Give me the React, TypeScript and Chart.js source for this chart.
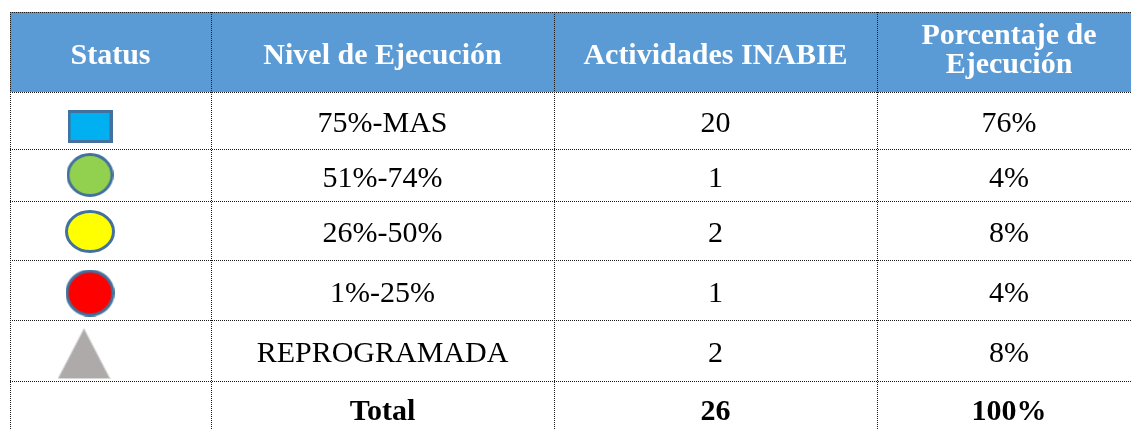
import React, { useEffect, useRef } from 'react';
import { Chart, registerables } from 'chart.js';

Chart.register(...registerables);

// ---- data ----
const headerLines: string[][] = [['Status'], ['Nivel de Ejecución'], ['Actividades INABIE'], ['Porcentaje de', 'Ejecución']];
const levels = ['75%-MAS', '51%-74%', '26%-50%', '1%-25%', 'REPROGRAMADA'];
const activities = [20, 1, 2, 1, 2];
const percentages = ['76%', '4%', '8%', '4%', '8%'];
const totalLabel = 'Total';
const totalActivities = '26';
const totalPercent = '100%';
const statusShapes = ['rect', 'circle', 'circle', 'circle', 'triangle'];
const statusColors = ['#00B0F0', '#92D050', '#FFFF00', '#FF0000', '#AEAAAA'];

// ---- layout (scale units) ----
const W = 1131;
const H = 430;
const colEdges = [10, 211, 554, 877, 1141];
const rowEdges = [12, 92, 149, 201, 260, 320, 381, 439];
const markerX = 90;
const markerSizes = [[45, 33], [47, 44], [50, 43], [49, 47], [53, 51]];
const markerDy = [6, 0, 1, 3, 3];
const HEADER_BG = '#5B9BD5';
const FONT = '"Liberation Serif", "Times New Roman", serif';

function makeMarker(kind: string, fill: string, w: number, h: number): HTMLCanvasElement {
  const c = document.createElement('canvas');
  c.width = w;
  c.height = h;
  const ctx = c.getContext('2d')!;
  ctx.fillStyle = fill;
  ctx.strokeStyle = '#41719C';
  ctx.lineWidth = 3;
  if (kind === 'rect') {
    ctx.fillRect(1.5, 1.5, w - 3, h - 3);
    ctx.strokeRect(1.5, 1.5, w - 3, h - 3);
  } else if (kind === 'circle') {
    ctx.beginPath();
    ctx.ellipse(w / 2, h / 2, w / 2 - 1.5, h / 2 - 1.5, 0, 0, Math.PI * 2);
    ctx.fill();
    ctx.stroke();
  } else {
    ctx.beginPath();
    ctx.moveTo(w / 2, 0.5);
    ctx.lineTo(w - 0.5, h - 0.5);
    ctx.lineTo(0.5, h - 0.5);
    ctx.closePath();
    ctx.fill();
    ctx.strokeStyle = '#D9D9D9';
    ctx.lineWidth = 1;
    ctx.stroke();
  }
  return c;
}

const tablePlugin = {
  id: 'tablePlugin',
  beforeDatasetsDraw(chart: any) {
    const { ctx, scales } = chart;
    const xs = scales.x;
    const ys = scales.y;
    const px = (v: number) => xs.getPixelForValue(v);
    const py = (v: number) => ys.getPixelForValue(v);
    ctx.save();
    // header background
    ctx.fillStyle = HEADER_BG;
    ctx.fillRect(px(colEdges[0]), py(rowEdges[0]), px(colEdges[4]) - px(colEdges[0]), py(rowEdges[1]) - py(rowEdges[0]));

    // grid lines (dotted)
    ctx.strokeStyle = '#1a1a1a';
    ctx.lineWidth = 1;
    ctx.setLineDash([1, 1]);
    const top = py(rowEdges[0]);
    const bottom = py(rowEdges[rowEdges.length - 1]);
    colEdges.forEach((c) => {
      const x = Math.round(px(c)) + 0.5;
      ctx.beginPath();
      ctx.moveTo(x, top);
      ctx.lineTo(x, bottom);
      ctx.stroke();
    });
    rowEdges.forEach((r) => {
      const y = Math.round(py(r)) + 0.5;
      ctx.beginPath();
      ctx.moveTo(px(colEdges[0]), y);
      ctx.lineTo(px(colEdges[4]), y);
      ctx.stroke();
    });
    ctx.setLineDash([]);

    const colCenter = (i: number) => px((colEdges[i] + colEdges[i + 1]) / 2);
    const rowCenter = (i: number) => py((rowEdges[i] + rowEdges[i + 1]) / 2);

    ctx.textAlign = 'center';
    ctx.textBaseline = 'alphabetic';

    // headers
    ctx.fillStyle = '#FFFFFF';
    ctx.font = `bold 30px ${FONT}`;
    headerLines.forEach((lines, i) => {
      const cy = rowCenter(0);
      if (lines.length === 1) {
        ctx.fillText(lines[0], colCenter(i), cy + 12);
      } else {
        ctx.fillText(lines[0], colCenter(i), cy - 7.7);
        ctx.fillText(lines[1], colCenter(i), cy + 20.7);
      }
    });

    // body rows
    ctx.fillStyle = '#000000';
    ctx.font = `30px ${FONT}`;
    levels.forEach((lv, r) => {
      const cy = rowCenter(r + 1) + 11.5;
      ctx.fillText(lv, colCenter(1), cy);
      ctx.fillText(String(activities[r]), colCenter(2), cy);
      ctx.fillText(percentages[r], colCenter(3), cy);
    });

    // total row
    ctx.font = `bold 30px ${FONT}`;
    const ty = py(410) + 9.5;
    ctx.fillText(totalLabel, colCenter(1), ty);
    ctx.fillText(totalActivities, colCenter(2), ty);
    ctx.fillText(totalPercent, colCenter(3), ty);
    ctx.restore();
  },
};

export default function App() {
  const ref = useRef<HTMLCanvasElement | null>(null);
  useEffect(() => {
    document.body.style.margin = '0';
    const markers = statusShapes.map((s, i) => makeMarker(s, statusColors[i], markerSizes[i][0], markerSizes[i][1]));
    const points = levels.map((_, i) => ({
      x: markerX - (statusShapes[i] === 'triangle' ? 6 : 0),
      y: (rowEdges[i + 1] + rowEdges[i + 2]) / 2 + markerDy[i],
    }));
    const chart = new Chart(ref.current!, {
      type: 'scatter',
      data: {
        datasets: [
          {
            label: 'Status',
            data: points,
            pointStyle: markers as any,
            pointRadius: 20,
            backgroundColor: statusColors,
          },
        ],
      },
      options: {
        animation: false,
        responsive: false,
        maintainAspectRatio: false,
        devicePixelRatio: 1,
        layout: { padding: 0, autoPadding: false },
        plugins: { legend: { display: false }, tooltip: { enabled: false }, title: { display: false } },
        scales: {
          x: { type: 'linear', min: 0, max: W, display: false },
          y: { type: 'linear', min: 0, max: H, reverse: true, display: false },
        },
        events: [],
      },
      plugins: [tablePlugin],
    });
    return () => chart.destroy();
  }, []);
  return (
    <div style={{ width: W, height: H, background: '#fff' }}>
      <canvas ref={ref} width={W} height={H} style={{ display: 'block', width: W, height: H }} />
    </div>
  );
}
